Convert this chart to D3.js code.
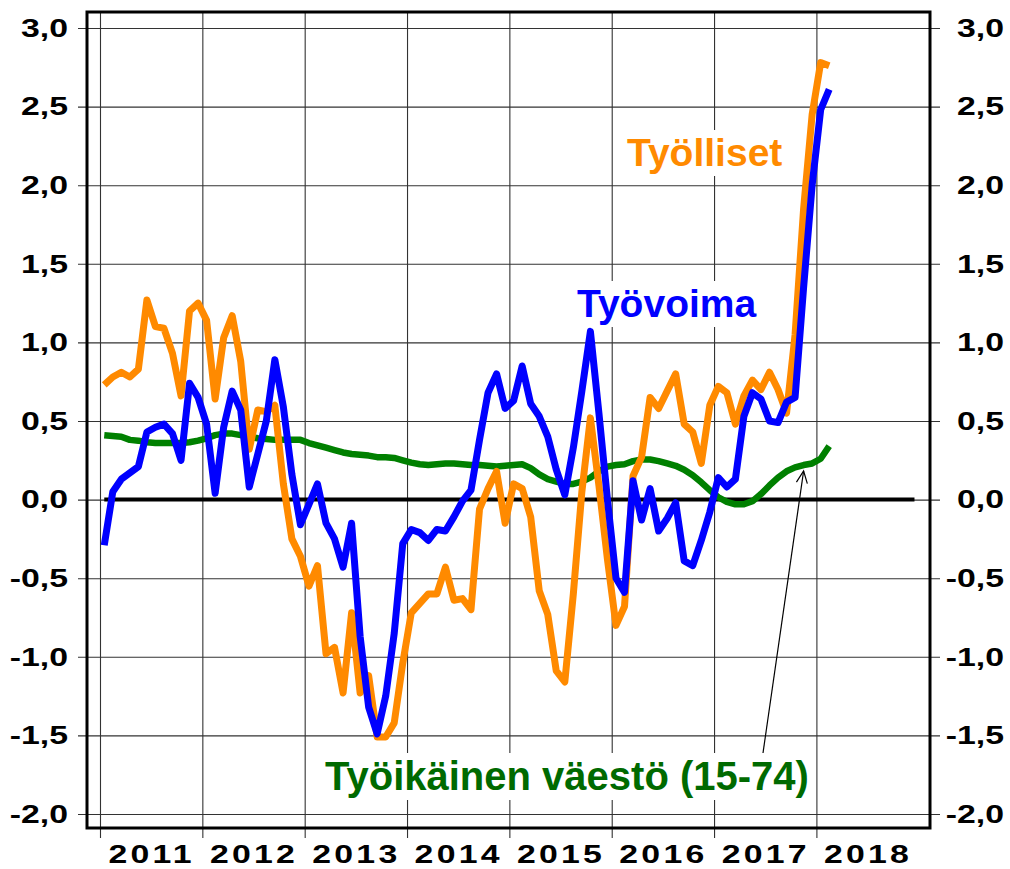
<!DOCTYPE html>
<html lang="fi">
  <head>
    <meta charset="UTF-8" />
    <script src="https://d3js.org/d3.v7.min.js"></script>
    <title>Työvoima, työlliset ja työikäinen väestö</title>
    <style type="text/css">
      body {
        margin: 0;
        background: #fff;
      }
      svg text {
        font-family: 'Liberation Sans', Arial, Helvetica, sans-serif;
        font-weight: bold;
      }
      .grid line {
        stroke: #333;
        stroke-width: 1.1;
      }
      .tick-label text {
        fill: #000;
        font-size: 26px;
      }
      .year-label text {
        fill: #000;
        font-size: 26px;
        letter-spacing: 2.5px;
      }
    </style>
  </head>
  <body>
    <svg width="1010" height="869"></svg>
    <script type="text/javascript">
      // monthly series, first value = Jan 2011
      const startYear = 2011;
      const tyolliset = [
        0.73, 0.78, 0.81, 0.78, 0.83, 1.27, 1.1, 1.09, 0.93, 0.66,
        1.2, 1.25, 1.14, 0.64, 1.03, 1.17, 0.88, 0.32, 0.57, 0.56,
        0.6, 0.1, -0.25, -0.36, -0.55, -0.42, -0.98, -0.94, -1.23, -0.72,
        -1.23, -1.12, -1.51, -1.51, -1.42, -1.04, -0.72, -0.66, -0.6, -0.6,
        -0.43, -0.64, -0.63, -0.7, -0.06, 0.07, 0.18, -0.15, 0.1, 0.07,
        -0.11, -0.58, -0.73, -1.09, -1.16, -0.6, 0.05, 0.52, 0.09, -0.38,
        -0.8, -0.68, 0.15, 0.27, 0.65, 0.58, 0.69, 0.8, 0.48, 0.43,
        0.23, 0.6, 0.72, 0.68, 0.48, 0.66, 0.76, 0.7, 0.81, 0.7,
        0.55, 1.05, 1.85, 2.45, 2.78, 2.76,
      ];
      const tyovoima = [
        -0.29, 0.05, 0.13, 0.17, 0.21, 0.43, 0.46, 0.48, 0.42, 0.25,
        0.74, 0.65, 0.48, 0.04, 0.46, 0.69, 0.57, 0.08, 0.29, 0.5,
        0.89, 0.59, 0.16, -0.16, -0.03, 0.1, -0.15, -0.25, -0.43, -0.15,
        -0.87, -1.32, -1.49, -1.25, -0.85, -0.28, -0.19, -0.21, -0.26, -0.19,
        -0.2, -0.11, -0.01, 0.06, 0.38, 0.68, 0.8, 0.58, 0.63, 0.85,
        0.61, 0.53, 0.4, 0.19, 0.03, 0.33, 0.69, 1.07, 0.55, 0.0,
        -0.5, -0.59, 0.12, -0.13, 0.07, -0.2, -0.12, -0.02, -0.39, -0.42,
        -0.26, -0.08, 0.14, 0.08, 0.13, 0.53, 0.68, 0.64, 0.5, 0.49,
        0.62, 0.65, 1.35, 2.0, 2.48, 2.61,
      ];
      const vaesto = [
        0.41, 0.405, 0.4, 0.38, 0.375, 0.365, 0.36, 0.36, 0.36, 0.36,
        0.365, 0.375, 0.39, 0.41, 0.42, 0.42, 0.41, 0.4, 0.39, 0.385,
        0.38, 0.38, 0.38, 0.38, 0.36, 0.345, 0.33, 0.315, 0.3, 0.29,
        0.285, 0.28, 0.27, 0.27, 0.265, 0.25, 0.235, 0.225, 0.22, 0.225,
        0.23, 0.23, 0.225, 0.22, 0.22, 0.215, 0.21, 0.215, 0.22, 0.225,
        0.2, 0.16, 0.13, 0.115, 0.1, 0.1, 0.115, 0.14, 0.18, 0.21,
        0.22, 0.225, 0.245, 0.255, 0.255, 0.245, 0.23, 0.215, 0.19, 0.155,
        0.11, 0.06, 0.015, -0.015, -0.03, -0.03, -0.01, 0.035, 0.09, 0.14,
        0.18, 0.205, 0.22, 0.23, 0.26, 0.34,
      ];
      const years = [2011, 2012, 2013, 2014, 2015, 2016, 2017, 2018];
      const yTicks = [-2, -1.5, -1, -0.5, 0, 0.5, 1, 1.5, 2, 2.5, 3];
      const zeroLineMonths = 96; // Jan 2011 .. Dec 2018
      const arrowMonth = 82; // annotation points at this month of vaesto

      const svg = d3.select('svg');

      // frame of the plot
      const frame = { left: 87, right: 930, top: 12, bottom: 828 };

      const x = d3.scaleLinear().domain([2010.873, 2019.11]).range([frame.left, frame.right]);
      const y = d3.scaleLinear().domain([-2, 3]).range([814, 28]);

      const monthX = (i) => x(startYear + (i + 0.5) / 12);

      const locale = d3.formatLocale({
        decimal: ',',
        thousands: ' ',
        grouping: [3],
        currency: ['', '€'],
        minus: '-',
      });
      const fmt = locale.format('.1f');

      // the tick labels in the original are a wide bold face
      const widen = 'scale(1.3,1)';

      // horizontal grid, sticks out a bit on both sides
      svg
        .append('g')
        .attr('class', 'grid')
        .attr('transform', `translate(940,0)`)
        .call(d3.axisLeft(y).tickValues(yTicks).tickSize(862).tickFormat(''))
        .call((g) => g.select('.domain').remove());

      // vertical grid at year starts, with ticks under the frame
      svg
        .append('g')
        .attr('class', 'grid')
        .attr('transform', `translate(0,838)`)
        .call(d3.axisBottom(x).tickValues(years).tickSize(-(838 - frame.top)).tickFormat(''))
        .call((g) => g.select('.domain').remove());

      // value labels, both sides right aligned
      [68, 1004].forEach((pos) => {
        svg
          .append('g')
          .attr('class', 'tick-label')
          .attr('transform', `translate(${pos},0)`)
          .call(d3.axisLeft(y).tickValues(yTicks).tickSize(0).tickPadding(0).tickFormat(fmt))
          .call((g) => g.select('.domain').remove())
          .attr('font-size', null)
          .attr('font-family', null)
          .selectAll('text')
          .attr('x', 0)
          .attr('transform', widen);
      });

      svg
        .append('g')
        .attr('class', 'year-label')
        .attr('transform', `translate(0,${frame.bottom})`)
        .call(
          d3
            .axisBottom(x)
            .tickValues(years.map((d) => d + 0.5))
            .tickSize(0)
            .tickPadding(16.5)
            .tickFormat((d) => Math.floor(d))
        )
        .call((g) => g.select('.domain').remove())
        .attr('font-size', null)
        .attr('font-family', null)
        .selectAll('text')
        .attr('transform', widen);

      // series labels with white boxes over the grid
      const labels = [
        { text: 'Työlliset', x: 627, y: 166, size: 39, color: '#ff8a00' },
        { text: 'Työvoima', x: 577, y: 317, size: 39, color: '#0000ff' },
        { text: 'Työikäinen väestö (15-74)', x: 325, y: 790, size: 40, color: '#006a00' },
      ];
      labels.forEach((l) => {
        const box = svg.append('rect').attr('fill', '#fff');
        const t = svg
          .append('text')
          .attr('x', l.x)
          .attr('y', l.y)
          .attr('font-size', l.size)
          .attr('fill', l.color)
          .text(l.text);
        const bb = t.node().getBBox();
        box
          .attr('x', bb.x - 7)
          .attr('y', bb.y - 1)
          .attr('width', bb.width + 12)
          .attr('height', bb.height + 3);
      });

      // frame
      svg
        .append('rect')
        .attr('x', frame.left)
        .attr('y', frame.top)
        .attr('width', frame.right - frame.left)
        .attr('height', frame.bottom - frame.top)
        .attr('fill', 'none')
        .attr('stroke', '#000')
        .attr('stroke-width', 3);

      // zero line
      svg
        .append('line')
        .attr('x1', monthX(0))
        .attr('x2', monthX(zeroLineMonths - 1))
        .attr('y1', y(0))
        .attr('y2', y(0))
        .attr('stroke', '#000')
        .attr('stroke-width', 4);

      const line = d3
        .line()
        .x((d, i) => monthX(i))
        .y((d) => y(d));

      const series = [
        { values: vaesto, color: '#008000', width: 6.5 },
        { values: tyolliset, color: '#ff8a00', width: 7 },
        { values: tyovoima, color: '#0000ff', width: 7 },
      ];
      series.forEach((s) => {
        svg
          .append('path')
          .datum(s.values)
          .attr('d', line)
          .attr('fill', 'none')
          .attr('stroke', s.color)
          .attr('stroke-width', s.width)
          .attr('stroke-linejoin', 'round');
      });

      // arrow from the green label to the green line
      svg
        .append('defs')
        .append('marker')
        .attr('id', 'arrow')
        .attr('markerUnits', 'userSpaceOnUse')
        .attr('viewBox', '-14 -7 16 14')
        .attr('markerWidth', 16)
        .attr('markerHeight', 14)
        .attr('refX', 0)
        .attr('refY', 0)
        .attr('orient', 'auto')
        .append('path')
        .attr('d', 'M-12,-5.5L0,0L-12,5.5')
        .attr('fill', 'none')
        .attr('stroke', '#000')
        .attr('stroke-width', 1.2);

      svg
        .append('line')
        .attr('x1', 763)
        .attr('y1', 753)
        .attr('x2', monthX(arrowMonth))
        .attr('y2', y(vaesto[arrowMonth]) + 6)
        .attr('stroke', '#000')
        .attr('stroke-width', 1.2)
        .attr('marker-end', 'url(#arrow)');
    </script>
  </body>
</html>
